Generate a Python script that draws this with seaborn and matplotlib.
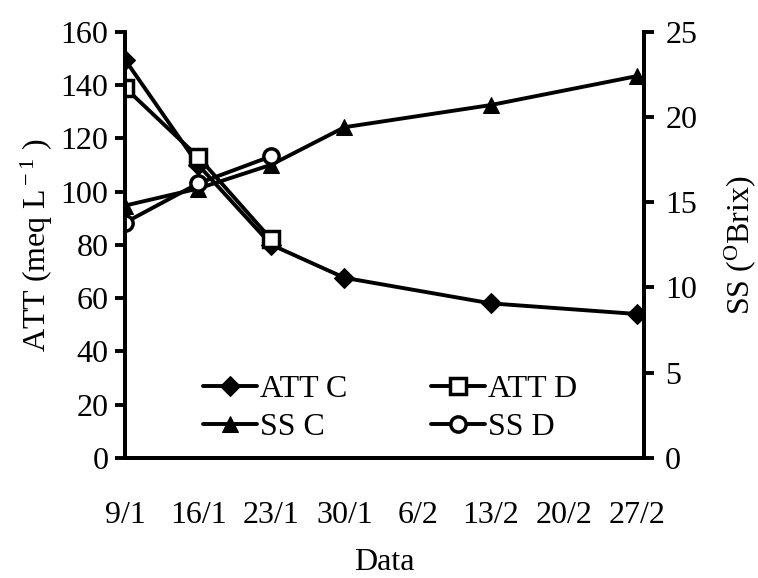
import pandas as pd
import numpy as np
import matplotlib
matplotlib.use("Agg")
import matplotlib.pyplot as plt
import seaborn as sns

# sampling days counted from 9/1
days = [0, 7, 14, 21, 35, 49]
att_c = [149.5, 110, 80, 67.6, 58, 54]
att_d = [139, 113, 82]
ss_c = [14.8, 15.8, 17.2, 19.4, 20.7, 22.4]
ss_d = [13.8, 16.1, 17.7]

tick_days = [0, 7, 14, 21, 28, 35, 42, 49]
tick_labels = ["9/1", "16/1", "23/1", "30/1", "6/2", "13/2", "20/2", "27/2"]

sns.set_style("white")
plt.rcParams["font.family"] = ["Liberation Serif", "DejaVu Serif"]
plt.rcParams["mathtext.fontset"] = "custom"
plt.rcParams["mathtext.rm"] = "Liberation Serif"
plt.rcParams["mathtext.it"] = "Liberation Serif:italic"
plt.rcParams["font.size"] = 23
for k in ["text.color", "axes.labelcolor", "xtick.color", "ytick.color"]:
    plt.rcParams[k] = "black"

fig, ax = plt.subplots(figsize=(7.58, 5.78), dpi=100)
fig.subplots_adjust(left=0.165, right=0.85, top=0.945, bottom=0.208)
ax2 = ax.twinx()

lw = 2.8
ms = 11
sns.lineplot(x=days, y=att_c, ax=ax, color="black", linewidth=lw, marker="D",
             markersize=ms - 1, markeredgecolor="black", label="ATT C")
sns.lineplot(x=days[:3], y=att_d, ax=ax, color="black", linewidth=lw, marker="s",
             markersize=ms + 1, markerfacecolor="white", markeredgecolor="black",
             markeredgewidth=2.5, label="ATT D")
sns.lineplot(x=days, y=ss_c, ax=ax2, color="black", linewidth=lw, marker="^",
             markersize=ms, markeredgecolor="black", label="SS C")
sns.lineplot(x=days[:3], y=ss_d, ax=ax2, color="black", linewidth=lw, marker="o",
             markersize=ms, markerfacecolor="white", markeredgecolor="black",
             markeredgewidth=2.5, label="SS D")

ax.set_xlim(0, 49.7)
ax.set_ylim(0, 160)
ax2.set_ylim(0, 25)
ax.set_yticks(np.arange(0, 161, 20))
ax2.set_yticks(np.arange(0, 26, 5))
ax.set_xticks(tick_days)
ax.set_xticklabels(tick_labels)

for a in (ax, ax2):
    for s in a.spines.values():
        s.set_linewidth(2.8)
        s.set_color("black")
    a.spines["top"].set_visible(False)
ax.tick_params(axis="both", direction="out", length=7, width=2.8, colors="black")
ax.tick_params(axis="x", pad=24)
ax.tick_params(axis="y", pad=5)
ax2.tick_params(axis="y", direction="out", length=7, width=2.8, colors="black", pad=8)

ax.set_xlabel("Data", labelpad=13)
ax.set_ylabel(r"ATT (meq L$^{\rm -1}$ )", labelpad=4)
ax2.set_ylabel(r"SS ($^{\rm O}$Brix)", labelpad=18)

h1, l1 = ax.get_legend_handles_labels()
h2, l2 = ax2.get_legend_handles_labels()
ax.get_legend().remove()
ax2.get_legend().remove()
handles = [h1[0], h2[0], h1[1], h2[1]]
labels = [l1[0], l2[0], l1[1], l2[1]]
ax2.legend(handles, labels, ncol=2, frameon=False, loc="lower center",
           bbox_to_anchor=(0.51, -0.03), handlelength=1.7, handletextpad=0.1,
           columnspacing=2.6, labelspacing=0.25)

plt.savefig("out.png", dpi=100)
